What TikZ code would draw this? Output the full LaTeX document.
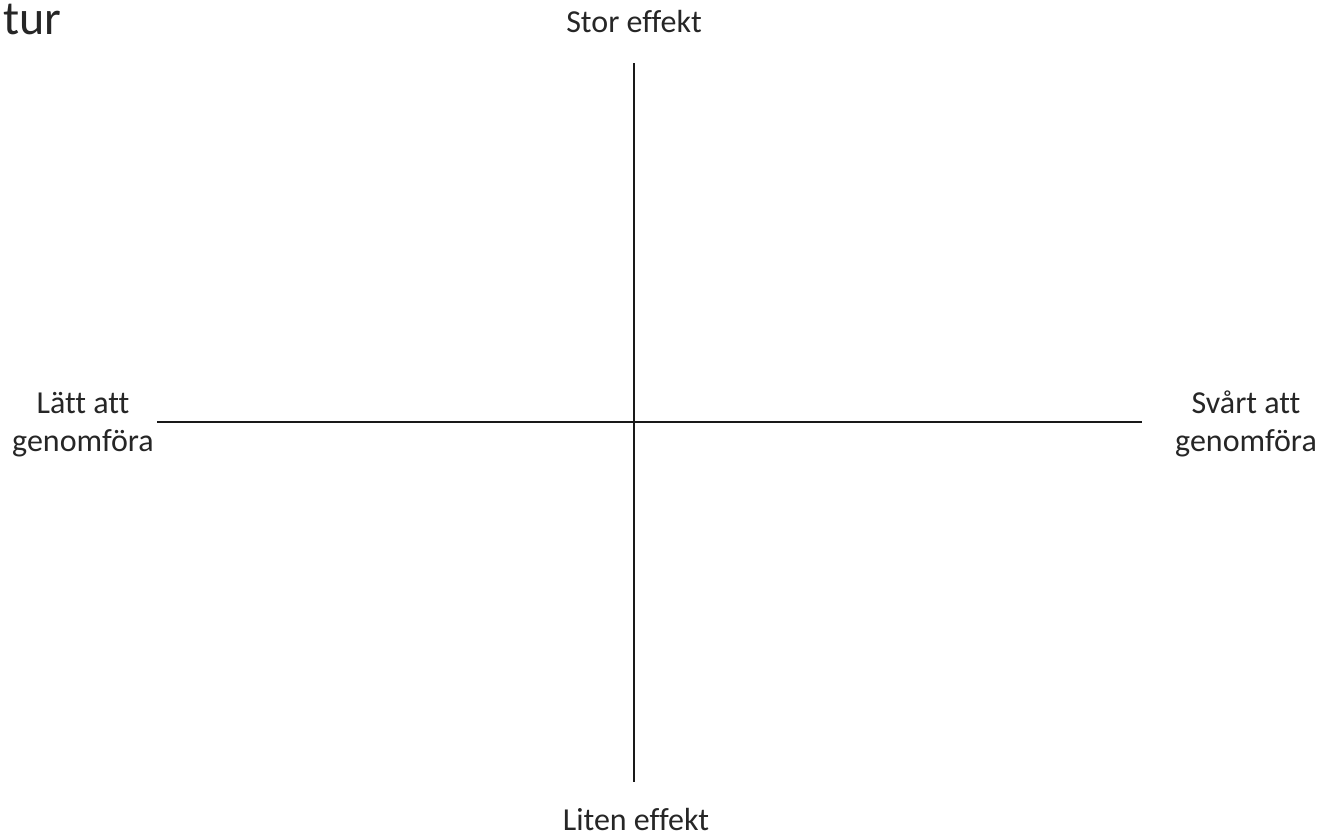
\documentclass[tikz,border=0pt]{standalone}
\usepackage{fontspec}
\setmainfont{Carlito}[Ligatures=NoCommon]
\begin{document}
\begin{tikzpicture}[x=0.75pt,y=-0.75pt,
  axisline/.style={line width=2pt,black!90},
  lbl/.style={font=\fontsize{24}{28.5}\selectfont,text=black!85,inner sep=0pt,anchor=base,align=center}]
\useasboundingbox (0,0) rectangle (1337,836);
\node[font=\fontsize{36}{40}\selectfont,text=black!85,inner sep=0pt,anchor=base west] (title) at (3,34) {tur};
\coordinate (top) at (634,63);
\coordinate (bot) at (634,782);
\coordinate (lft) at (157,422);
\coordinate (rgt) at (1142,422);
\draw[axisline] (top) -- (bot);
\draw[axisline] (lft) -- (rgt);
\node[lbl] (stor) at (634,32) {Stor effekt};
\node[lbl] (liten) at (636,830) {Liten effekt};
\node[lbl] (latt) at (83,451) {Lätt att\\genomföra};
\node[lbl] (svart) at (1246,451) {Svårt att\\genomföra};
\end{tikzpicture}
\end{document}
